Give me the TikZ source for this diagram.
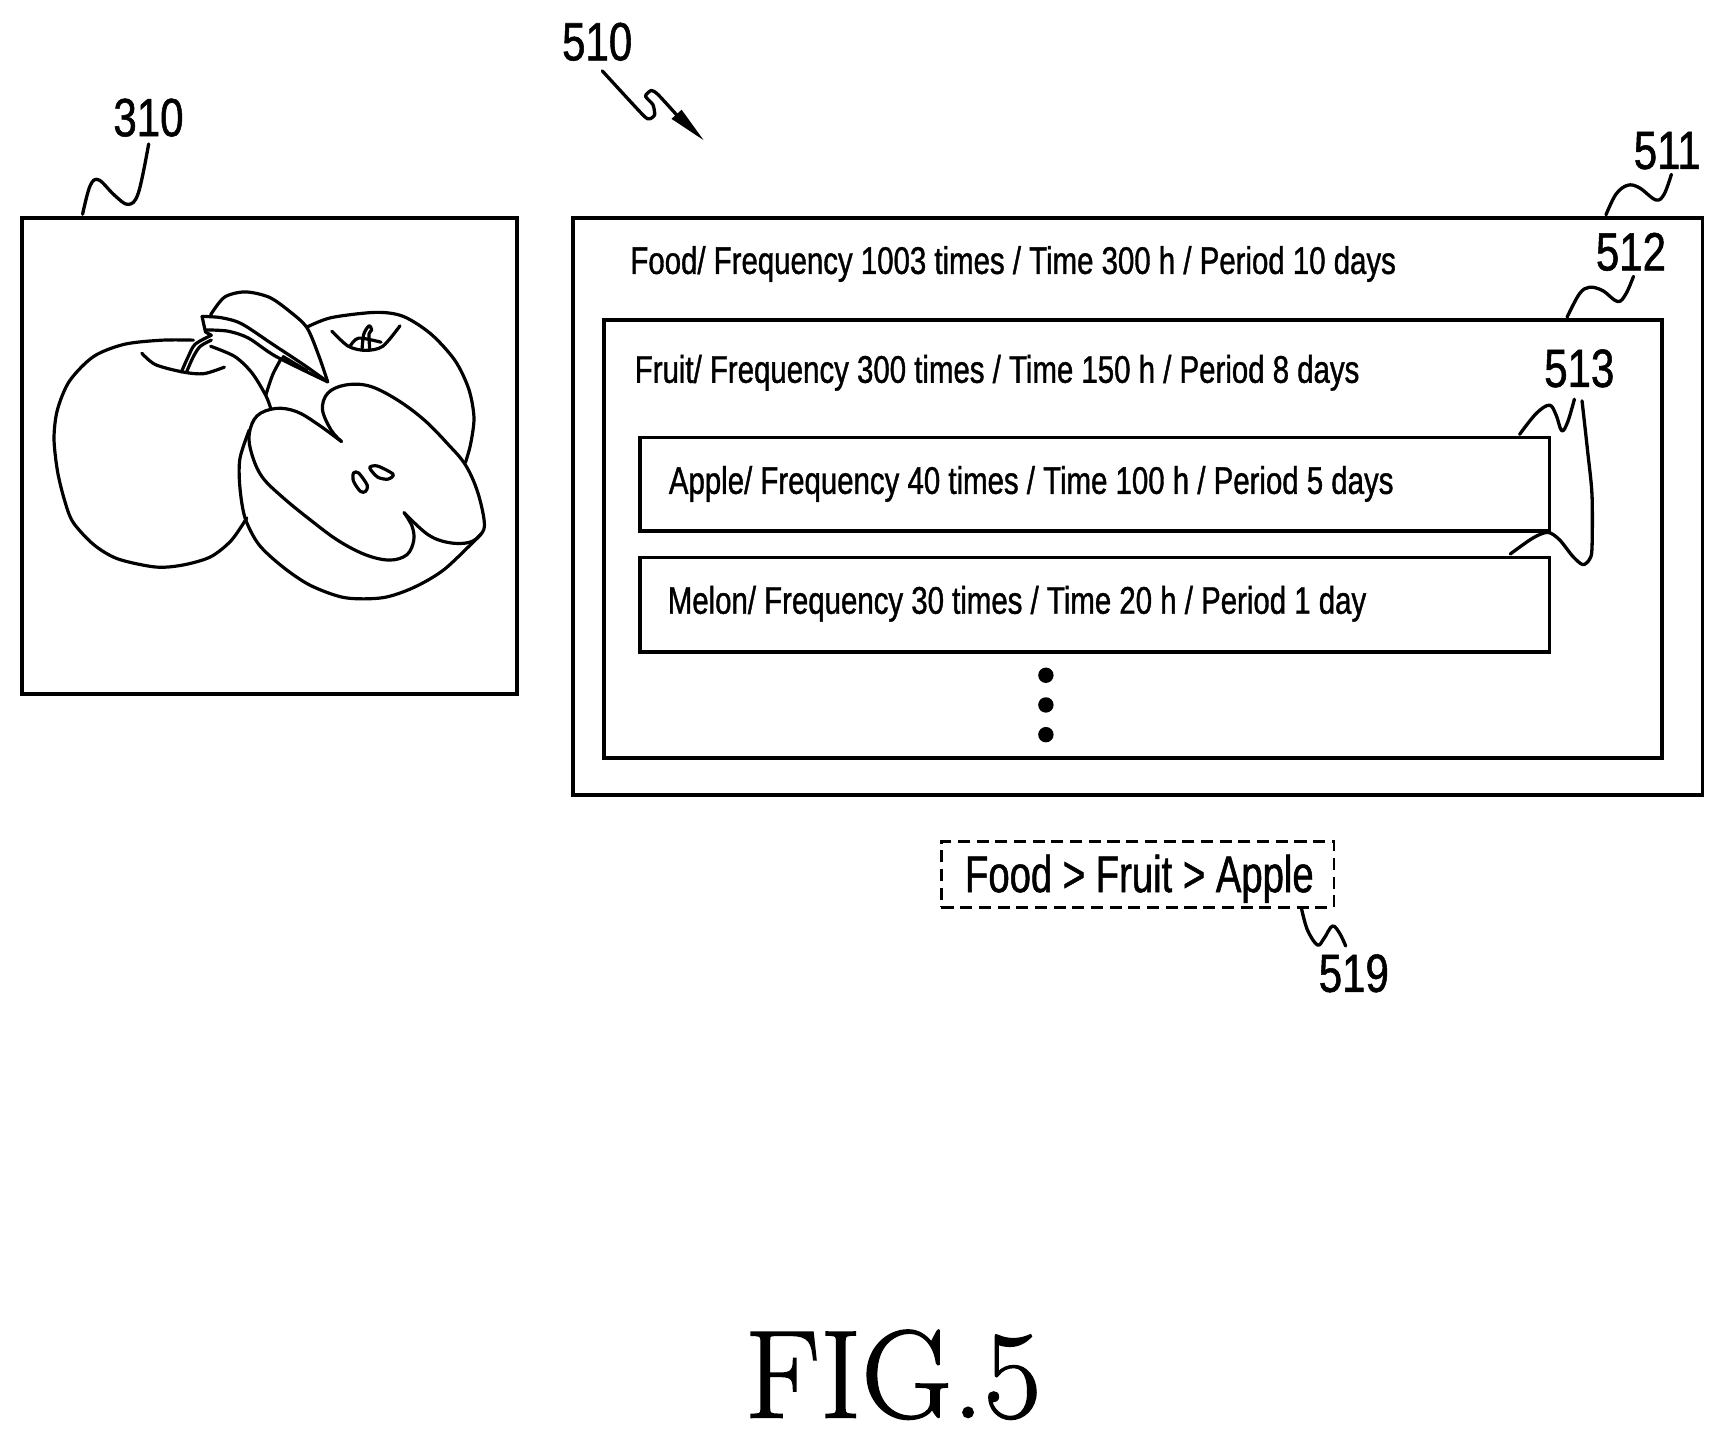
\documentclass[tikz,border=0pt]{standalone}
\usepackage{fontspec}
\newfontfamily\lab[FakeStretch=0.78,FakeBold=1]{Liberation Sans}
\newfontfamily\rowf[FakeStretch=0.764,FakeBold=1]{Liberation Sans}
\newfontfamily\pathf[FakeStretch=0.74,FakeBold=1]{Liberation Sans}
\newfontfamily\figf[FakeBold=1.2]{Latin Modern Roman}
\usetikzlibrary{calc}
\tikzset{
  box/.style={draw,line width=3.2pt,inner sep=0pt,outer sep=0pt,anchor=north west,line join=miter},
  line/.style={draw,line width=3pt,line cap=round,line join=round},
  art/.style={line width=2.9pt,line cap=round,line join=round},
  refnum/.style={inner sep=0pt,font=\lab\fontsize{49}{52}\selectfont},
  rowtext/.style={inner sep=0pt,anchor=west,font=\rowf\fontsize{35}{38}\selectfont},
  dotmark/.style={circle,fill=black,minimum size=14pt,inner sep=0pt}
}
\begin{document}
\begin{tikzpicture}[x=1pt,y=-1pt]
\useasboundingbox[fill=white] (0,0) rectangle (1568.5,1307.6);
% boxes
\node[box,minimum width=450pt,minimum height=433pt] (imgbox) at (20,198) {};
\node[box,minimum width=1027pt,minimum height=525pt] (b511) at (521,198) {};
\node[box,minimum width=962pt,minimum height=398pt] (b512) at (549,291) {};
\node[box,minimum width=827pt,minimum height=85pt] (b513a) at (582,398) {};
\node[box,minimum width=827pt,minimum height=86pt] (b513b) at (582,507) {};
\node[box,dashed,dash pattern=on 11pt off 6pt,line width=2.2pt,minimum width=357pt,minimum height=60pt] (b519) at (856,765) {};
% texts
\node[rowtext] (t1) at (573,240) {Food/ Frequency 1003 times / Time 300 h / Period 10 days};
\node[rowtext] (t2) at (577,339) {Fruit/ Frequency 300 times / Time 150 h / Period 8 days};
\node[rowtext] (t3) at (608,440) {Apple/ Frequency 40 times / Time 100 h / Period 5 days};
\node[rowtext] (t4) at (607,549) {Melon/ Frequency 30 times / Time 20 h / Period 1 day};
\node[inner sep=0pt,font=\pathf\fontsize{47}{50}\selectfont] (path) at (1036,799) {Food > Fruit > Apple};
\node[refnum] (n310) at (135,107) {310};
\node[refnum] (n510) at (543,38) {510};
\node[refnum] (n511) at (1516,137) {511};
\node[refnum] (n512) at (1483,229) {512};
\node[refnum] (n513) at (1436,335) {513};
\node[refnum] (n519) at (1231,885) {519};
\node[inner sep=0pt,font=\figf\fontsize{114}{118}\selectfont] (fig) at (812,1250) {FIG.5};
\node[dotmark] (d1) at (951,614) {};
\node[dotmark] (d2) at (951,641) {};
\node[dotmark] (d3) at (951,668) {};
% apple art and leader 310
\begin{scope}[shift={(0.6,71.4)},x=0.313pt,y=-0.3717pt]
\coordinate (a310) at (238,332);
\coordinate (b310) at (430,160);
\draw[line] plot[smooth,tension=0.6] coordinates {(a310) (260,262) (285,248) (330,285) (370,308) (400,280) (b310)};
\begin{scope}[art]
\draw plot[smooth] coordinates {(560,640) (470,640) (360,650) (270,680) (200,740) (165,810) (155,880) (165,960) (185,1030) (210,1085) (270,1140) (340,1175) (450,1195) (530,1190) (610,1170) (670,1130) (715,1075)};
\draw plot[smooth] coordinates {(610,655) (680,680) (730,720) (770,775) (785,808)};
\draw plot[smooth] coordinates {(410,672) (450,700) (530,718) (590,722) (650,706)};
\draw plot[smooth] coordinates {(525,718) (545,680) (565,650) (612,628)};
\draw plot[smooth] coordinates {(540,718) (560,680) (580,655) (612,640)};
\draw (585,582) -- (595,620) -- (612,628);
\draw plot[smooth] coordinates {(610,578) (650,535) (710,522) (780,535) (840,570) (890,610) (925,680) (950,742)};
\draw plot[smooth] coordinates {(585,582) (640,585) (700,600) (790,650) (880,700) (950,742)};
\draw plot[smooth] coordinates {(595,615) (660,618) (720,635) (800,680) (950,742)};
\draw (820,680) -- (890,715);
\draw plot[smooth] coordinates {(890,608) (960,585) (1090,572) (1170,582) (1250,625) (1320,690) (1360,760) (1375,830) (1365,895) (1350,940)};
\draw plot[smooth] coordinates {(815,685) (790,725) (770,775)};
\draw plot[smooth] coordinates {(962,618) (1010,655) (1060,665) (1110,655) (1160,605)};
\draw plot[smooth] coordinates {(1015,655) (1040,635) (1105,645)};
\draw plot[smooth] coordinates {(1050,660) (1055,625) (1070,605) (1078,615) (1070,625) (1072,660)};
\draw plot[smooth,tension=0.6] coordinates {(990,888) (960,860) (935,810) (950,770) (1000,750) (1070,752) (1150,785) (1230,835) (1300,895) (1350,945) (1385,1010) (1405,1085) (1395,1115) (1360,1135) (1300,1135) (1240,1115) (1172,1062)};
\draw plot[smooth,tension=0.6] coordinates {(1172,1062) (1195,1095) (1200,1130) (1180,1165) (1130,1178) (1060,1165) (980,1130) (900,1080) (820,1025) (760,975) (730,920) (722,870) (745,825) (800,807) (860,815) (920,845) (990,888)};
\draw plot[smooth] coordinates {(722,860) (695,930) (695,1000) (710,1075) (750,1140) (820,1195) (900,1240) (1000,1270) (1110,1270) (1200,1245) (1290,1200) (1395,1115)};
\draw plot[smooth cycle] coordinates {(1025,965) (1040,965) (1065,995) (1060,1010) (1045,1010) (1025,985)};
\draw plot[smooth cycle] coordinates {(1072,952) (1095,948) (1140,968) (1125,980) (1095,975)};
\end{scope}
\end{scope}
% leaders, right side
\begin{scope}[shift={(1273,108.7)},x=0.302pt,y=-0.302pt]
\coordinate (a511) at (620,287); \coordinate (e511) at (817,165);
\coordinate (a512) at (503,595); \coordinate (e512) at (703,472);
\coordinate (a513) at (360,948); \coordinate (e513) at (525,842);
\coordinate (c513) at (332,1308); \coordinate (f513) at (548,847);
\draw[line] plot[smooth,tension=0.6] coordinates {(a511) (650,225) (685,198) (720,205) (770,242) (795,225) (e511)};
\draw[line] plot[smooth,tension=0.6] coordinates {(a512) (540,525) (570,505) (610,515) (655,548) (680,525) (e512)};
\draw[line] plot[smooth,tension=0.6] coordinates {(a513) (410,885) (450,860) (470,890) (487,937) (505,910) (e513)};
\draw[line] plot[smooth,tension=0.5] coordinates {(f513) (565,1000) (578,1130) (578,1290) (570,1325) (550,1340) (520,1315) (480,1265) (445,1243) (400,1260) (c513)};
\end{scope}
% leader 519
\begin{scope}[shift={(837,746)},x=0.302pt,y=-0.302pt]
\coordinate (a519) at (1147,265); \coordinate (e519) at (1280,378);
\draw[line] plot[smooth,tension=0.6] coordinates {(a519) (1165,330) (1195,375) (1215,355) (1240,318) (1262,340) (e519)};
\end{scope}
% arrow 510
\begin{scope}[shift={(489.3,0)},x=0.307pt,y=-0.307pt]
\coordinate (s510) at (190,210); \coordinate (tip510) at (490,415);
\draw[line] plot[smooth,tension=0.4] coordinates {(s510) (310,340) (330,352) (345,340) (340,310) (318,285) (335,268) (355,280) (410,340)};
\fill (tip510) -- (395,352) -- (425,325) -- cycle;
\end{scope}
\end{tikzpicture}
\end{document}
